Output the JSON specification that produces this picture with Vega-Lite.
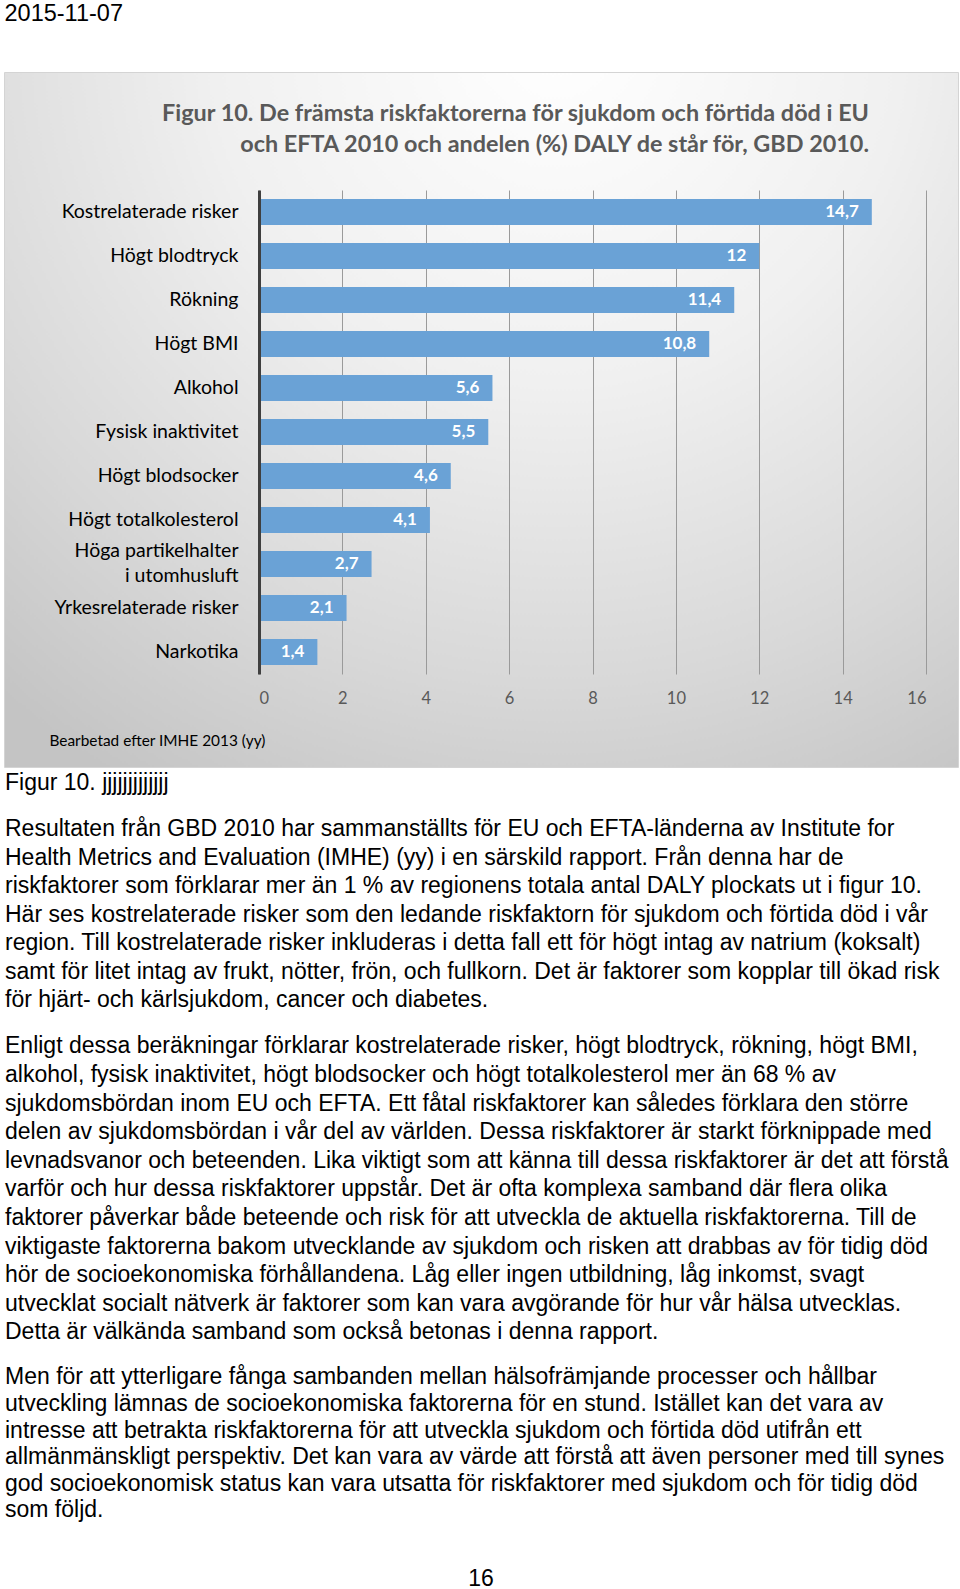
{
  "$schema": "https://vega.github.io/schema/vega-lite/v6.json",
  "background": "white",
  "padding": {"left": 3, "right": 3, "top": 2, "bottom": 0},
  "config": {
    "locale": {"number": {"decimal": ",", "thousands": " ", "grouping": [3], "currency": ["", " kr"]}},
    "view": {"stroke": null},
    "text": {"font": "Liberation Sans", "fontSize": 23, "color": "#000000"}
  },
  "title": {"text": "2015-11-07", "anchor": "start", "frame": "bounds", "font": "Liberation Sans", "fontSize": 23.5, "fontWeight": "normal", "color": "#000000", "offset": 46, "dx": 1},
  "datasets": {
    "risks": [
      {"risk": "Kostrelaterade risker", "daly": 14.7},
      {"risk": "Högt blodtryck", "daly": 12},
      {"risk": "Rökning", "daly": 11.4},
      {"risk": "Högt BMI", "daly": 10.8},
      {"risk": "Alkohol", "daly": 5.6},
      {"risk": "Fysisk inaktivitet", "daly": 5.5},
      {"risk": "Högt blodsocker", "daly": 4.6},
      {"risk": "Högt totalkolesterol", "daly": 4.1},
      {"risk": "Höga partikelhalter i utomhusluft", "daly": 2.7},
      {"risk": "Yrkesrelaterade risker", "daly": 2.1},
      {"risk": "Narkotika", "daly": 1.4}
    ],
    "caption": [{"line": 1, "text": "Figur 10. jjjjjjjjjjjjj"}],
    "p1": [
      {"line": 1, "text": "Resultaten från GBD 2010 har sammanställts för EU och EFTA-länderna av Institute for"},
      {"line": 2, "text": "Health Metrics and Evaluation (IMHE) (yy) i en särskild rapport. Från denna har de"},
      {"line": 3, "text": "riskfaktorer som förklarar mer än 1 % av regionens totala antal DALY plockats ut i figur 10."},
      {"line": 4, "text": "Här ses kostrelaterade risker som den ledande riskfaktorn för sjukdom och förtida död i vår"},
      {"line": 5, "text": "region. Till kostrelaterade risker inkluderas i detta fall ett för högt intag av natrium (koksalt)"},
      {"line": 6, "text": "samt för litet intag av frukt, nötter, frön, och fullkorn. Det är faktorer som kopplar till ökad risk"},
      {"line": 7, "text": "för hjärt- och kärlsjukdom, cancer och diabetes."}
    ],
    "p2": [
      {"line": 1, "text": "Enligt dessa beräkningar förklarar kostrelaterade risker, högt blodtryck, rökning, högt BMI,"},
      {"line": 2, "text": "alkohol, fysisk inaktivitet, högt blodsocker och högt totalkolesterol mer än 68 % av"},
      {"line": 3, "text": "sjukdomsbördan inom EU och EFTA. Ett fåtal riskfaktorer kan således förklara den större"},
      {"line": 4, "text": "delen av sjukdomsbördan i vår del av världen. Dessa riskfaktorer är starkt förknippade med"},
      {"line": 5, "text": "levnadsvanor och beteenden. Lika viktigt som att känna till dessa riskfaktorer är det att förstå"},
      {"line": 6, "text": "varför och hur dessa riskfaktorer uppstår. Det är ofta komplexa samband där flera olika"},
      {"line": 7, "text": "faktorer påverkar både beteende och risk för att utveckla de aktuella riskfaktorerna. Till de"},
      {"line": 8, "text": "viktigaste faktorerna bakom utvecklande av sjukdom och risken att drabbas av för tidig död"},
      {"line": 9, "text": "hör de socioekonomiska förhållandena. Låg eller ingen utbildning, låg inkomst, svagt"},
      {"line": 10, "text": "utvecklat socialt nätverk är faktorer som kan vara avgörande för hur vår hälsa utvecklas."},
      {"line": 11, "text": "Detta är välkända samband som också betonas i denna rapport."}
    ],
    "p3": [
      {"line": 1, "text": "Men för att ytterligare fånga sambanden mellan hälsofrämjande processer och hållbar"},
      {"line": 2, "text": "utveckling lämnas de socioekonomiska faktorerna för en stund. Istället kan det vara av"},
      {"line": 3, "text": "intresse att betrakta riskfaktorerna för att utveckla sjukdom och förtida död utifrån ett"},
      {"line": 4, "text": "allmänmänskligt perspektiv. Det kan vara av värde att förstå att även personer med till synes"},
      {"line": 5, "text": "god socioekonomisk status kan vara utsatta för riskfaktorer med sjukdom och för tidig död"},
      {"line": 6, "text": "som följd."}
    ],
    "pagenum": [{"line": 1, "text": "16"}]
  },
  "spacing": 43.5,
  "resolve": {"scale": {"x": "independent", "y": "independent"}},
  "vconcat": [
    {
      "spacing": 1,
      "resolve": {"scale": {"x": "independent", "y": "independent"}},
      "vconcat": [
        {
          "width": 954,
          "height": 695,
          "view": {
            "stroke": "#d4d4d4",
            "strokeWidth": 1,
            "fill": {
              "gradient": "radial",
              "x1": 0.58, "y1": 0.1, "r1": 0,
              "x2": 0.58, "y2": 0.1, "r2": 0.9,
              "stops": [
                {"offset": 0, "color": "#ffffff"},
                {"offset": 0.4, "color": "#f0f0f0"},
                {"offset": 0.75, "color": "#d8d8d8"},
                {"offset": 1, "color": "#c4c4c4"}
              ]
            }
          },
          "title": {
            "text": ["Figur 10. De främsta riskfaktorerna för sjukdom och förtida död i EU", "och EFTA 2010 och andelen (%) DALY de står för, GBD 2010."],
            "anchor": "end",
            "align": "right",
            "frame": "group",
            "dx": -89,
            "offset": -85.5,
            "font": "Lato",
            "fontSize": 23.4,
            "fontWeight": "bold",
            "color": "#595959",
            "lineHeight": 31
          },
          "data": {"name": "risks"},
          "encoding": {
            "y": {
              "field": "risk",
              "type": "nominal",
              "sort": null,
              "scale": {"range": [118, 602], "paddingInner": 0.41, "paddingOuter": 0.205},
              "axis": {
                "orient": "left",
                "offset": -255,
                "title": null,
                "ticks": false,
                "grid": false,
                "domain": true,
                "domainColor": "#3f3f3f",
                "domainWidth": 3,
                "labelFont": "Lato",
                "labelFontSize": 19.5,
                "labelColor": "#000000",
                "labelPadding": 21,
                "labelLimit": 400,
                "labelLineHeight": 25,
                "labelOffset": {"condition": {"test": "datum.value == 'Höga partikelhalter i utomhusluft'", "value": -13}, "value": 0},
                "labelExpr": "datum.value == 'Höga partikelhalter i utomhusluft' ? ['Höga partikelhalter', 'i utomhusluft'] : datum.value",
                "zindex": 2
              }
            }
          },
          "layer": [
            {
              "mark": {"type": "bar", "color": "#6aa2d6"},
              "encoding": {
                "x": {
                  "field": "daly",
                  "type": "quantitative",
                  "scale": {"domain": [0, 16], "range": [255, 922], "nice": false, "zero": true},
                  "axis": {
                    "orient": "top",
                    "offset": 0,
                    "values": [0, 2, 4, 6, 8, 10, 12, 14, 16],
                    "grid": true,
                    "gridColor": "#9a9a9a",
                    "gridWidth": 1,
                    "labels": false,
                    "ticks": false,
                    "domain": false,
                    "title": null
                  }
                }
              }
            },
            {
              "mark": {"type": "text", "align": "right", "baseline": "middle", "dx": -13, "font": "Lato", "fontSize": 17, "fontWeight": "bold", "color": "#ffffff"},
              "encoding": {
                "x": {
                  "field": "daly",
                  "type": "quantitative",
                  "axis": {
                    "orient": "bottom",
                    "offset": -93,
                    "values": [0, 2, 4, 6, 8, 10, 12, 14, 16],
                    "grid": false,
                    "ticks": false,
                    "domain": false,
                    "labelFont": "Lato",
                    "labelFontSize": 16.5,
                    "labelColor": "#595959",
                    "labelPadding": 16.5,
                    "title": "Bearbetad efter IMHE 2013 (yy)",
                    "titleFont": "Lato",
                    "titleFontSize": 15.4,
                    "titleFontWeight": "normal",
                    "titleColor": "#000000",
                    "titleAlign": "left",
                    "titleBaseline": "middle",
                    "titleAnchor": "start",
                    "titleX": 45,
                    "titleY": 66
                  }
                },
                "text": {"field": "daly", "type": "quantitative", "format": "~g"}
              }
            }
          ],
          "resolve": {"axis": {"x": "independent"}}
        },
        {
          "spacing": 17,
          "resolve": {"scale": {"x": "independent", "y": "independent"}},
          "vconcat": [
            {
              "width": 954,
              "height": {"step": 28.5},
              "data": {"name": "caption"},
              "mark": {"type": "text", "align": "left", "baseline": "middle", "dx": 1},
              "encoding": {
                "x": {"datum": 0, "type": "quantitative", "scale": {"domain": [0, 1]}, "axis": null},
                "y": {"field": "line", "type": "ordinal", "sort": null, "axis": null},
                "text": {"field": "text"}
              }
            },
            {
              "width": 954,
              "height": {"step": 28.5},
              "data": {"name": "p1"},
              "mark": {"type": "text", "align": "left", "baseline": "middle", "dx": 1},
              "encoding": {
                "x": {"datum": 0, "type": "quantitative", "scale": {"domain": [0, 1]}, "axis": null},
                "y": {"field": "line", "type": "ordinal", "sort": null, "axis": null},
                "text": {"field": "text"}
              }
            },
            {
              "width": 954,
              "height": {"step": 28.6},
              "data": {"name": "p2"},
              "mark": {"type": "text", "align": "left", "baseline": "middle", "dx": 1},
              "encoding": {
                "x": {"datum": 0, "type": "quantitative", "scale": {"domain": [0, 1]}, "axis": null},
                "y": {"field": "line", "type": "ordinal", "sort": null, "axis": null},
                "text": {"field": "text"}
              }
            },
            {
              "width": 954,
              "height": {"step": 26.6},
              "data": {"name": "p3"},
              "mark": {"type": "text", "align": "left", "baseline": "middle", "dx": 1},
              "encoding": {
                "x": {"datum": 0, "type": "quantitative", "scale": {"domain": [0, 1]}, "axis": null},
                "y": {"field": "line", "type": "ordinal", "sort": null, "axis": null},
                "text": {"field": "text"}
              }
            }
          ]
        }
      ]
    },
    {
      "width": 954,
      "height": {"step": 20},
      "data": {"name": "pagenum"},
      "mark": {"type": "text", "align": "center", "baseline": "middle"},
      "encoding": {
        "x": {"datum": 0.5, "type": "quantitative", "scale": {"domain": [0, 1]}, "axis": null},
        "y": {"field": "line", "type": "ordinal", "sort": null, "axis": null},
        "text": {"field": "text"}
      }
    }
  ]
}
